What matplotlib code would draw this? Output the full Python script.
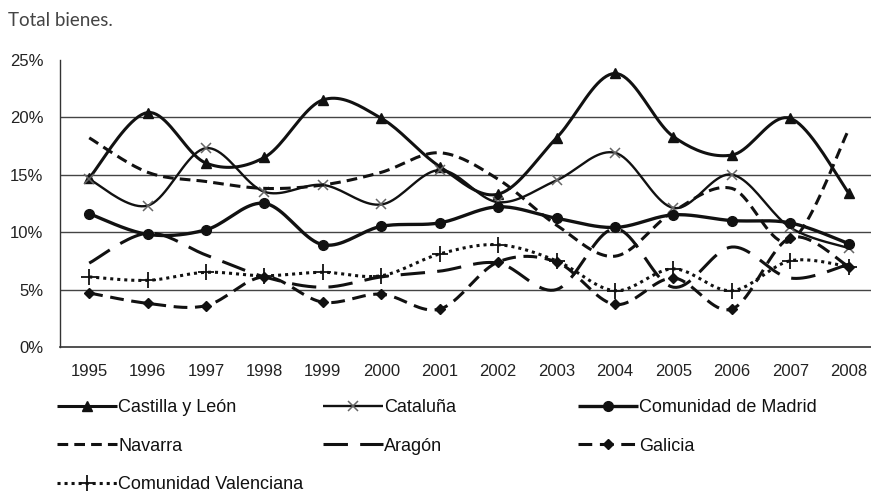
import numpy as np
import matplotlib
matplotlib.use("Agg")
import matplotlib.pyplot as plt

plt.rcParams['font.family'] = ['Liberation Sans', 'DejaVu Sans']

years = ["1995", "1996", "1997", "1998", "1999", "2000", "2001",
         "2002", "2003", "2004", "2005", "2006", "2007", "2008"]

castilla = [14.7, 20.4, 16.0, 16.5, 21.5, 19.9, 15.7, 13.3, 18.2, 23.8, 18.3, 16.7, 19.9, 13.4]
cataluna = [14.6, 12.3, 17.3, 13.5, 14.1, 12.4, 15.4, 12.6, 14.5, 16.9, 12.1, 15.0, 10.4, 8.6]
madrid = [11.6, 9.8, 10.2, 12.5, 8.9, 10.5, 10.8, 12.2, 11.2, 10.4, 11.5, 11.0, 10.8, 9.0]
navarra = [18.2, 15.2, 14.4, 13.8, 14.1, 15.2, 16.9, 14.6, 10.6, 7.9, 11.8, 13.8, 9.2, 18.9]
aragon = [7.3, 9.9, 8.0, 6.1, 5.2, 6.1, 6.6, 7.3, 5.0, 10.3, 5.2, 8.7, 6.0, 7.2]
galicia = [4.7, 3.8, 3.6, 6.1, 3.9, 4.6, 3.3, 7.4, 7.4, 3.7, 6.0, 3.3, 9.5, 7.0]
valenciana = [6.1, 5.8, 6.5, 6.2, 6.5, 6.2, 8.1, 8.9, 7.5, 4.9, 6.8, 4.9, 7.5, 7.0]

N_SEG = 20


def bezier_smooth(x, y, n=N_SEG):
    # Excel-like smoothed line (Catmull-Rom as cubic Bezier)
    x = np.asarray(x, float)
    y = np.asarray(y, float)
    px = np.concatenate([[x[0]], x, [x[-1]]])
    py = np.concatenate([[y[0]], y, [y[-1]]])
    t = np.linspace(0, 1, n, endpoint=False)
    xs, ys = [], []
    for i in range(len(x) - 1):
        for p, out in ((px, xs), (py, ys)):
            p0, p1, p2, p3 = p[i], p[i + 1], p[i + 2], p[i + 3]
            c1 = p1 + (p2 - p0) / 6
            c2 = p2 - (p3 - p1) / 6
            out.append((1 - t) ** 3 * p1 + 3 * (1 - t) ** 2 * t * c1
                       + 3 * (1 - t) * t ** 2 * c2 + t ** 3 * p2)
    xs.append([x[-1]])
    ys.append([y[-1]])
    return np.concatenate(xs), np.concatenate(ys)


series = [
    ("Castilla y León", castilla, dict(ls="-", lw=2.2, marker="^", ms=7)),
    ("Cataluña", cataluna, dict(ls="-", lw=1.7, marker="x", ms=7, mec="#666666", mew=1.1)),
    ("Comunidad de Madrid", madrid, dict(ls="-", lw=2.4, marker="o", ms=7)),
    ("Navarra", navarra, dict(ls=(0, (3.5, 2)), lw=2.2, marker=None)),
    ("Aragón", aragon, dict(ls=(0, (8, 4)), lw=2.2, marker=None)),
    ("Galicia", galicia, dict(ls=(0, (4.5, 2.5)), lw=2.2, marker="D", ms=5.5)),
    ("Comunidad Valenciana", valenciana, dict(ls=(0, (1, 1.3)), lw=2.2, marker="+", ms=11, mew=1.3)),
]

fig = plt.figure(figsize=(8.71, 4.99), dpi=100)
ax = fig.add_axes([0.0689, 0.3046, 0.939, 0.5758])

xpos = np.arange(len(years))
handles = {}
for name, vals, style in series:
    sx, sy = bezier_smooth(xpos, vals)
    marks = list(range(0, len(sx), N_SEG))
    line, = ax.plot(sx, sy, color="#111111", markevery=marks, label=name,
                    solid_capstyle="butt", dash_capstyle="butt", zorder=3, **style)
    handles[name] = line

for g in [5, 10, 15, 20]:
    ax.axhline(g, color="#444444", lw=1.0, zorder=1)

ax.set_xlim(-0.5, 13.5)
ax.set_ylim(0, 25)
ax.set_xticks(xpos)
ax.set_xticklabels(years)
ax.set_yticks([0, 5, 10, 15, 20, 25])
ax.set_yticklabels([f"{v}%" for v in [0, 5, 10, 15, 20, 25]])
ax.tick_params(axis="both", length=0, labelsize=12, colors="#222222")
ax.tick_params(axis="y", pad=12)
ax.tick_params(axis="x", pad=12)

for s in ["top", "right"]:
    ax.spines[s].set_visible(False)
ax.spines["left"].set_color("#333333")
ax.spines["bottom"].set_color("#333333")
ax.spines["left"].set_linewidth(1.0)
ax.spines["bottom"].set_linewidth(1.2)

fig.text(0.009, 0.958, "Total bienes.", fontsize=13.5, color="#444444",
         family=["Lato", "DejaVu Sans"], va="center", ha="left")

columns = [
    (["Castilla y León", "Navarra", "Comunidad Valenciana"], 57),
    (["Cataluña", "Aragón"], 323),
    (["Comunidad de Madrid", "Galicia"], 578),
]
for names, x0 in columns:
    fig.legend([handles[n] for n in names], names, loc="upper left",
               bbox_to_anchor=(x0 / 871, 1 - 399 / 499), frameon=False,
               fontsize=13, handlelength=3.3, handletextpad=0.1,
               borderpad=0, borderaxespad=0, labelspacing=1.2,
               numpoints=1, labelcolor="#111111")

fig.savefig("out.png", dpi=100)
